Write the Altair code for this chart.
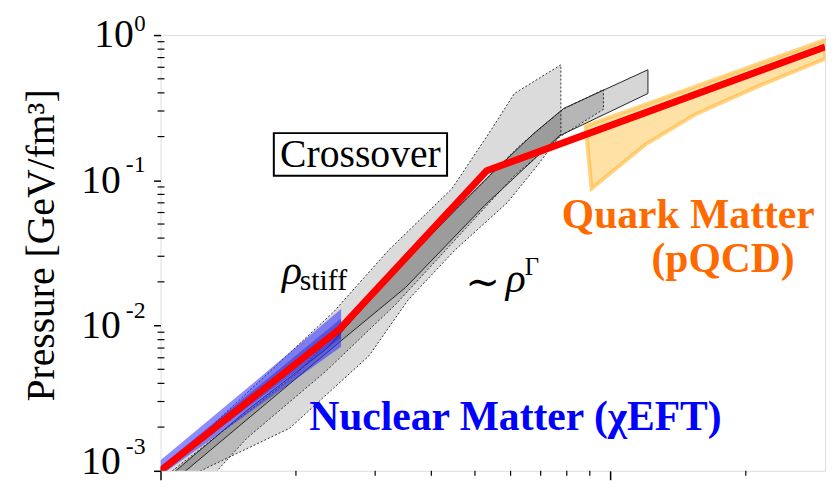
import altair as alt
import pandas as pd

W, H = 671, 440

# ---------------- data ----------------
# red best-fit EoS (x: density, log; y: pressure GeV/fm^3)
red_x = [1.0, 2.50, 5.31, 30.0]
red_y = [0.001, 0.00944, 0.1164, 0.828]

# light gray band (dotted outline) - polygon vertices
band_a_x = [1.0, 2.420, 3.215, 4.446, 5.445, 6.117, 7.762, 7.762, 6.873, 5.904,
            4.514, 3.558, 2.905, 1.937, 1.228, 1.19]
band_a_y = [0.000954, 0.01233, 0.0331, 0.0877, 0.225, 0.396, 0.624, 0.208, 0.1259, 0.0704,
            0.0331, 0.01512, 0.00618, 0.001964, 0.001, 0.000924]

# middle band (dotted outline)
band_b_x = [1.028, 2.006, 3.332, 4.749, 6.276, 7.840, 9.652, 9.652, 7.762, 6.117,
            4.514, 3.332, 2.336, 1.557, 1.305]
band_b_y = [0.000924, 0.004657, 0.02422, 0.0727, 0.1723, 0.308, 0.4217, 0.308, 0.2016, 0.1076,
            0.0388, 0.01398, 0.00488, 0.00168, 0.000924]

# polytrope band (solid outline)
band_s_x = [1.049, 1.557, 2.336, 3.332, 4.514, 5.528, 6.769, 7.88, 12.12, 12.12,
            7.685, 5.255, 3.504, 2.546, 1.138, 1.104]
band_s_y = [0.000924, 0.002606, 0.0069, 0.02347, 0.0621, 0.1164, 0.2113, 0.3129, 0.577, 0.396,
            0.2016, 0.0672, 0.01826, 0.00807, 0.001, 0.000924]

# chiral EFT band
eft_x = [1.0, 1.557, 2.52]
eft_hi = [0.00118, 0.00370, 0.01300]
eft_lo = [0.00093, 0.00245, 0.00715]
eft_in_hi = [0.00107, 0.00330, 0.01120]
eft_in_lo = [0.00096, 0.00272, 0.00820]

# pQCD band polygon
qcd_x = [8.81, 30.0, 30.0, 21.71, 15.46, 12.0, 10.15, 9.082]
qcd_y = [0.2359, 0.9245, 0.686, 0.456, 0.2847, 0.1778, 0.1164, 0.0877]

# axis ticks
x_major = [1, 10]
x_minor = [2, 3, 4, 5, 6, 7, 8, 9, 20]
y_major = [0.001, 0.01, 0.1, 1]
y_minor = [k * 10.0 ** e for e in (-3, -2, -1) for k in range(2, 10)]
y_exp = ["-3", "-2", "-1", "0"]

SERIF = "Liberation Serif, Times New Roman, serif"

XS = alt.Scale(type="log", domain=[1, 30], nice=False)
YS = alt.Scale(type="log", domain=[0.001, 1], nice=False)
XAX = alt.Axis(values=x_major, labels=False, tickSize=9, tickWidth=1.5, tickColor="black",
               domain=False, grid=False, title=None)
YAX = alt.Axis(values=y_major, labels=False, tickSize=7, tickWidth=1.5, tickColor="black",
               domain=False, grid=False, title="Pressure [GeV/fm³]",
               titleFont=SERIF, titleFontSize=40, titleFontWeight="normal", titleColor="black",
               titleX=-120, titleY=212, titleAngle=270, titleAlign="center",
               titleBaseline="middle")


def X(f="x"):
    return alt.X(f"{f}:Q", scale=XS, axis=XAX)


def Y(f="y"):
    return alt.Y(f"{f}:Q", scale=YS, axis=YAX)


def polygon(xs, ys, **style):
    df = pd.DataFrame({"x": xs, "y": ys, "i": list(range(len(xs)))})
    return alt.Chart(df).mark_line(interpolate="linear-closed", clip=True, **style).encode(
        x=X(), y=Y(), order="i:Q")


band_a = polygon(band_a_x, band_a_y, fill="black", fillOpacity=0.14, stroke="#333333",
                 strokeWidth=1, strokeDash=[2, 2])
band_b = polygon(band_b_x, band_b_y, fill="black", fillOpacity=0.15, stroke="#333333",
                 strokeWidth=1, strokeDash=[2, 2])
band_s = polygon(band_s_x, band_s_y, fill="black", fillOpacity=0.16, stroke="#222222",
                 strokeWidth=1)

qcd = polygon(qcd_x, qcd_y, fill="#ffc95c", fillOpacity=0.55, stroke="#ffb733",
              strokeWidth=4, strokeOpacity=0.6)

eft_df = pd.DataFrame({"x": eft_x, "y": eft_lo, "y2": eft_hi})
eft = alt.Chart(eft_df).mark_area(color="#2f2fff", opacity=0.55, clip=True).encode(
    x=X(), y=Y(), y2="y2:Q")
eft_in_df = pd.DataFrame({"x": eft_x, "y": eft_in_lo, "y2": eft_in_hi})
eft_in = alt.Chart(eft_in_df).mark_area(color="#1a1ad0", opacity=0.4, clip=True).encode(
    x=X(), y=Y(), y2="y2:Q")

red_df = pd.DataFrame({"x": red_x, "y": red_y, "i": list(range(len(red_x)))})
red = alt.Chart(red_df).mark_line(color="#ff0000", strokeWidth=7, clip=True,
                                  strokeJoin="miter").encode(x=X(), y=Y(), order="i:Q")

# Crossover box + text
box_df = pd.DataFrame({"x": [1.786], "x2": [4.335], "y": [0.1076], "y2": [0.2113]})
box = alt.Chart(box_df).mark_rect(fill="white", stroke="black", strokeWidth=2).encode(
    x=X(), x2="x2:Q", y=Y(), y2="y2:Q")


def label(txt, x, y, size, color="black", weight="normal", style="normal", align="center",
          baseline="alphabetic", font=SERIF):
    df = pd.DataFrame({"x": [x], "y": [y], "t": [txt]})
    return alt.Chart(df).mark_text(fontSize=size, color=color, fontWeight=weight,
                                   fontStyle=style, align=align, baseline=baseline,
                                   font=font).encode(x=X(), y=Y(), text="t:N")


t_cross = label("Crossover", 2.782, 0.1496, 40, baseline="middle")
t_rho1 = label("ρ", 1.862, 0.0194, 42, style="italic", align="left")
t_stiff = label("stiff", 2.040, 0.01769, 30, align="left")
t_sim = label("∼", 5.202, 0.0197, 42, baseline="middle", font="DejaVu Serif")
t_rho2 = label("ρ", 5.85, 0.01715, 42, style="italic", align="left")
t_gam = label("Γ", 6.45, 0.02239, 25, align="left")
t_qm = label("Quark Matter", 14.9, 0.0468, 42, color="#ff6a00", weight="bold")
t_pq = label("(pQCD)", 17.8, 0.02347, 42, color="#ff6a00", weight="bold")
t_nm = label("Nuclear Matter (χEFT)", 6.15, 0.0019, 42, color="#0000ff", weight="bold")

# minor ticks
xm_df = pd.DataFrame({"x": x_minor})
xminor = alt.Chart(xm_df).mark_rule(color="black", strokeWidth=1.2).encode(
    x=X(), y=alt.value(H), y2=alt.value(H + 5))
ym_df = pd.DataFrame({"y": y_minor})
yminor = alt.Chart(ym_df).mark_rule(color="black", strokeWidth=1.2).encode(
    y=Y(), x=alt.value(-3), x2=alt.value(4))

# y tick labels 10^k
lab_df = pd.DataFrame({"y": y_major, "e": y_exp, "b": ["10"] * 4})
lab = alt.Chart(lab_df)


def tick_label(cond, bx, bdy, edy, esize=24):
    base = lab.transform_filter(cond).mark_text(
        font=SERIF, fontSize=40, color="black", align="right", baseline="alphabetic", dy=bdy
    ).encode(y=Y(), x=alt.value(bx), text="b:N")
    expo = lab.transform_filter(cond).mark_text(
        font=SERIF, fontSize=esize, color="black", align="right", baseline="alphabetic", dy=edy
    ).encode(y=Y(), x=alt.value(-15), text="e:N")
    return [base, expo]


labels = (tick_label("datum.e == '0'", -27, 12, -4, 23)
          + tick_label("datum.e == '-1' || datum.e == '-2'", -40, 13, -8)
          + tick_label("datum.e == '-3'", -40, 3, -17))

chart = alt.layer(
    band_a, band_b, band_s, qcd, eft, eft_in, red, box,
    t_cross, t_rho1, t_stiff, t_sim, t_rho2, t_gam, t_qm, t_pq, t_nm,
    xminor, yminor, *labels,
).properties(
    width=W, height=H,
    autosize=alt.AutoSizeParams(type="none"),
    padding={"left": 154, "top": 25, "right": 2, "bottom": 12},
).configure_view(stroke="black", strokeWidth=2).configure(background="white")

chart.save("out.html", embed_options={"renderer": "svg", "actions": False})
